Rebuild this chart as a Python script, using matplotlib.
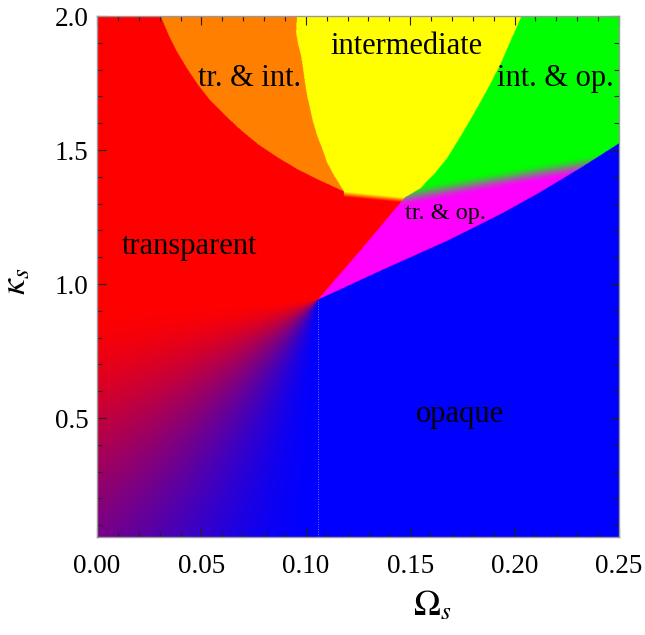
import numpy as np
import matplotlib
matplotlib.use('Agg')
import matplotlib.pyplot as plt
from matplotlib.path import Path
from matplotlib.ticker import MultipleLocator, FormatStrFormatter

plt.rcParams['font.family'] = ['Liberation Serif', 'DejaVu Serif']
plt.rcParams['mathtext.fontset'] = 'stix'

x_min, x_max = 0.0, 0.25
y_min, y_max = 0.056, 2.0

# phase boundaries in the (Omega_s, kappa_s) plane
tr_int_x = [0.0302, 0.0343, 0.0383, 0.0431, 0.0479, 0.0541, 0.0618, 0.0690,
            0.0771, 0.0857, 0.0953, 0.1068, 0.1183]
tr_int_y = [2.000, 1.925, 1.863, 1.801, 1.745, 1.683, 1.623, 1.571,
            1.519, 1.474, 1.429, 1.384, 1.343]
int_edge_x = [0.0958, 0.0953, 0.0963, 0.0977, 0.0987, 0.0996, 0.1006, 0.1020,
              0.1034, 0.1054, 0.1078, 0.1102, 0.1135, 0.1183]
int_edge_y = [2.000, 1.937, 1.892, 1.851, 1.799, 1.750, 1.701, 1.653,
              1.604, 1.552, 1.504, 1.451, 1.403, 1.343]
int_op_x = [0.2036, 0.1983, 0.1930, 0.1868, 0.1801, 0.1739, 0.1676, 0.1614, 0.1547, 0.1475]
int_op_y = [2.000, 1.907, 1.813, 1.720, 1.627, 1.545, 1.466, 1.407, 1.354, 1.321]
tr_op_x = [0.1058, 0.1265, 0.1475]
tr_op_y = [0.940, 1.127, 1.321]
opaque_x = [0.1058, 0.1164, 0.1370, 0.1691, 0.1930, 0.2122, 0.2313, 0.2500]
opaque_y = [0.940, 0.978, 1.052, 1.164, 1.257, 1.340, 1.429, 1.522]
# centre of the green/magenta crossover
blend_x = [0.1475, 0.1834, 0.2155, 0.2500]
blend_y = [1.321, 1.373, 1.418, 1.463]

labels = ['transparent', 'tr. & int.', 'intermediate', 'int. & op.', 'tr. & op.', 'opaque']
label_x = [0.0445, 0.0733, 0.1480, 0.2193, 0.1667, 0.1738]
label_y = [1.112, 1.739, 1.858, 1.739, 1.243, 0.485]
label_size = [22, 22, 22, 22, 17.5, 22]

RED = np.array([1.0, 0.0, 0.0])
ORANGE = np.array([1.0, 0.5, 0.0])
YELLOW = np.array([1.0, 1.0, 0.0])
GREEN = np.array([0.0, 1.0, 0.0])
MAGENTA = np.array([1.0, 0.0, 1.0])
BLUE = np.array([0.0, 0.0, 1.0])


def smooth(t):
    t = np.clip(t, 0, 1)
    return t * t * (3 - 2 * t)


top = y_max + 0.1
right = x_max + 0.1
px, py = tr_op_x[0], tr_op_y[0]
tx, ty = tr_int_x[-1], tr_int_y[-1]
qx, qy = tr_op_x[-1], tr_op_y[-1]

orange_poly = (list(zip(tr_int_x, tr_int_y)) + list(zip(int_edge_x, int_edge_y))[::-1]
               + [(int_edge_x[0], top), (tr_int_x[0], top)])
yellow_poly = (list(zip(int_edge_x, int_edge_y)) + list(zip(int_op_x, int_op_y))[::-1]
               + [(int_op_x[0], top), (int_edge_x[0], top)])
op_poly = (list(zip(int_op_x, int_op_y)) + list(zip(tr_op_x, tr_op_y))[::-1][1:]
           + list(zip(opaque_x, opaque_y))[1:]
           + [(right, opaque_y[-1]), (right, top), (int_op_x[0], top)])
blue_poly = (list(zip(opaque_x, opaque_y))
             + [(right, opaque_y[-1]), (right, y_min - 0.1), (px, y_min - 0.1)])

n = 1000
X, Y = np.meshgrid(np.linspace(x_min, x_max, n), np.linspace(y_min, y_max, n))
pts = np.column_stack([X.ravel(), Y.ravel()])


def mask(poly):
    return Path(poly).contains_points(pts).reshape(X.shape)


# transparent -> opaque fan below the lower triple point
u = (px - X) / (x_max - x_min)
v = (py - Y) / (y_max - y_min)
w = smooth(np.arctan2(v, u) / (np.pi / 2))[..., None]
img = (1 - w) * RED + w * BLUE

# soft yellow edge under the intermediate region
yl = np.interp(X, [tx, qx], [ty, qy])
d = (yl - Y) / 0.02
band = (X >= tx) & (X <= qx) & (d >= 0) & (d < 1)
m = (1 - d[band])[:, None]
img[band] = m * YELLOW + (1 - m) * RED

img[mask(orange_poly)] = ORANGE
img[mask(yellow_poly)] = YELLOW

op = mask(op_poly)
g = smooth((Y - np.interp(X, blend_x, blend_y)) / 0.07 + 0.5)[..., None]
mix = g * GREEN + (1 - g) * MAGENTA
img[op] = mix[op]

img[mask(blue_poly)] = BLUE

fig = plt.figure(figsize=(6.45, 6.35), dpi=100)
ax = fig.add_axes([0.1504, 0.1543, 0.8093, 0.8205])
ax.imshow(img, origin='lower', extent=[x_min, x_max, y_min, y_max], aspect='auto',
          interpolation='antialiased')
ax.plot([px, px], [y_min, py], ls=(0, (1, 2)), color='#9a9aff', lw=0.6)

for text, lx, ly, fs in zip(labels, label_x, label_y, label_size):
    ax.text(lx, ly, text, fontsize=fs, ha='center', va='baseline', color='black')

ax.set_xlim(x_min, x_max)
ax.set_ylim(y_min, y_max)
ax.xaxis.set_major_locator(MultipleLocator(0.05))
ax.xaxis.set_minor_locator(MultipleLocator(0.01))
ax.yaxis.set_major_locator(MultipleLocator(0.5))
ax.yaxis.set_minor_locator(MultipleLocator(0.1))
ax.xaxis.set_major_formatter(FormatStrFormatter('%.2f'))
ax.yaxis.set_major_formatter(FormatStrFormatter('%.1f'))
ax.tick_params(which='both', direction='in', top=True, right=True, color='#222222', width=0.8)
ax.tick_params(which='major', length=6.5, labelsize=19.5)
ax.tick_params(axis='x', which='major', pad=12)
ax.tick_params(axis='y', which='major', pad=6)
ax.tick_params(which='minor', length=3.5)
for s in ax.spines.values():
    s.set_color('#999999')
    s.set_linewidth(1.0)

ax.set_xlabel(r'$\Omega_s$', fontsize=26)
ax.set_ylabel(r'$\kappa_s$', fontsize=26)
ax.xaxis.set_label_coords(0.642, -0.10)
ax.yaxis.set_label_coords(-0.123, 0.491)

fig.savefig('out.png', dpi=100)
